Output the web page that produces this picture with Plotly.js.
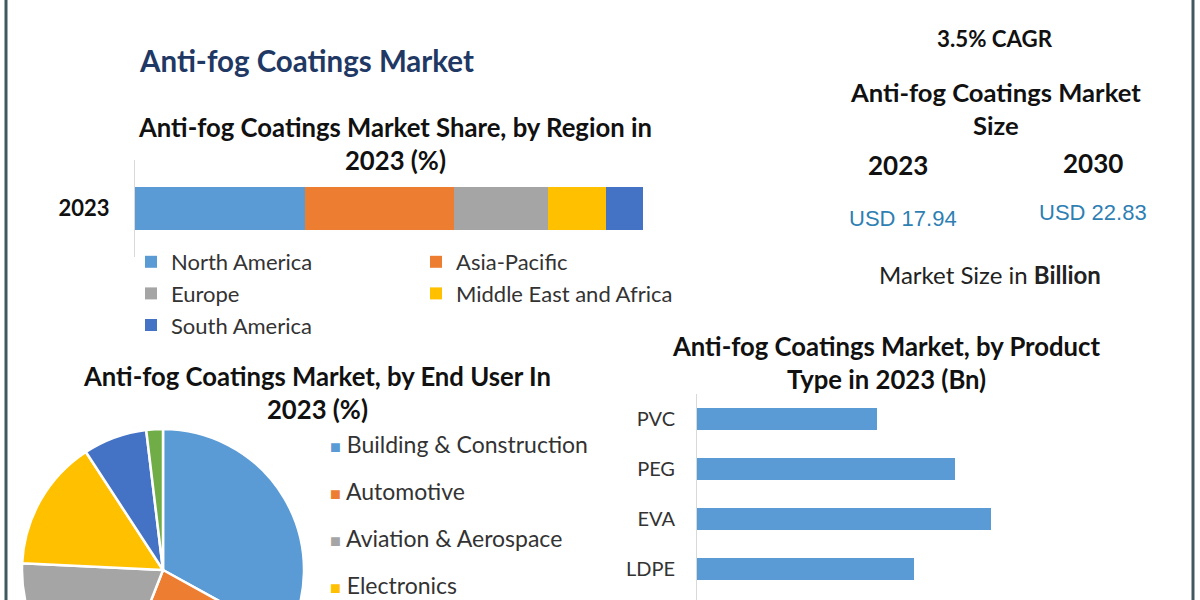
<!DOCTYPE html>
<html><head><meta charset="utf-8">
<script src="https://cdn.plot.ly/plotly-3.0.1.min.js"></script>
<style>
html,body{margin:0;padding:0;background:#fff;overflow:hidden}
#wrap{width:1200px;height:600px;overflow:hidden;position:relative;background:#fff}
#chart{width:1200px;height:760px}
</style></head>
<body><div id="wrap"><div id="chart"></div></div>
<script>
// ---------- data ----------
const mainTitle = 'Anti-fog Coatings Market';
const regionYear = ['2023'];
const regions = ['North America', 'Asia-Pacific', 'Europe', 'Middle East and Africa', 'South America'];
const regionShare = [33.5, 29.3, 18.5, 11.4, 7.3];
const regionColors = ['#5b9bd5', '#ed7d31', '#a5a5a5', '#ffc000', '#4472c4'];

const endUsers = ['Building & Construction', 'Automotive', 'Aviation & Aerospace', 'Electronics', 'Medical', 'Others'];
const endUserShare = [33.0, 22.9, 19.8, 15.0, 7.3, 1.9];
const endUserColors = ['#5b9bd5', '#ed7d31', '#a5a5a5', '#ffc000', '#4472c4', '#70ad47'];

const products = ['PVC', 'PEG', 'EVA', 'LDPE'];
const productValues = [3.2, 4.58, 5.22, 3.86];

const cagr = '3.5% CAGR';
const sizeTitle = 'Anti-fog Coatings Market<br>Size';
const sizeYears = ['2023', '2030'];
const sizeValues = [17.94, 22.83];

// ---------- geometry helpers ----------
const W = 1200, H = 760, VIEW_H = 600;
const px = x => x / W;
const py = y => 1 - y / H;

const traces = [];
regions.forEach((r, i) => {
  traces.push({
    type: 'bar', orientation: 'h', name: r,
    y: regionYear, x: [regionShare[i]],
    marker: {color: regionColors[i]},
    xaxis: 'x', yaxis: 'y',
    legend: (i === 1 || i === 3) ? 'legend2' : 'legend',
    hovertemplate: r + ': %{x}%<extra></extra>'
  });
});
traces.push({
  type: 'pie', labels: endUsers, values: endUserShare, sort: false,
  direction: 'clockwise', rotation: 0, textinfo: 'none',
  marker: {colors: endUserColors, line: {color: '#ffffff', width: 2.5}},
  domain: {x: [px(22), px(304)], y: [py(711), py(429)]},
  showlegend: false
});
traces.push({
  type: 'bar', orientation: 'h', y: products, x: productValues,
  marker: {color: '#5b9bd5'}, xaxis: 'x2', yaxis: 'y2', showlegend: false,
  hovertemplate: '%{y}: %{x}<extra></extra>'
});

const F = 'Lato, "Liberation Sans", Arial, sans-serif';
const ann = [];
function A(text, x, y, size, opts) {
  ann.push(Object.assign({
    text: text, x: px(x), y: py(y), xref: 'paper', yref: 'paper',
    xanchor: 'center', yanchor: 'middle', showarrow: false,
    font: {family: F, size: size, color: '#111'}
  }, opts || {}));
}
const bold = (s, c) => ({family: F, size: s, color: c || '#111', weight: 'bold'});
A(mainTitle, 137, 60, 29.5, {xanchor: 'left', font: bold(29.5, '#1f3864')});
A('Anti-fog Coatings Market Share, by Region in<br>2023 (%)', 395, 143.5, 25.7, {font: bold(25.7)});
A('Anti-fog Coatings Market, by End User In<br>2023 (%)', 317, 392, 25.7, {font: bold(25.7)});
A('Anti-fog Coatings Market, by Product<br>Type in 2023 (Bn)', 886, 362, 25.7, {font: bold(25.7)});
A(cagr, 995, 38, 22.3, {font: bold(22.3)});
A(sizeTitle, 995, 108, 25.6, {font: bold(25.6)});
A(sizeYears[0], 898, 165, 26, {font: bold(26)});
A(sizeYears[1], 1093, 163, 26, {font: bold(26)});
A('USD ' + sizeValues[0].toFixed(2), 903, 218, 22, {font: {family: '"Liberation Sans", Arial, sans-serif', size: 22, color: '#2f7fb3'}});
A('USD ' + sizeValues[1].toFixed(2), 1093, 213, 22, {font: {family: '"Liberation Sans", Arial, sans-serif', size: 22, color: '#2f7fb3'}});
A('Market Size in <b>Billion</b>', 990, 274, 24, {font: {family: F, size: 24, color: '#222'}});
// pie legend: entries that fall inside the visible 600px frame
endUsers.forEach((u, i) => {
  const yc = 444 + 47 * i;
  if (yc > VIEW_H) return;
  A('<span style="color:' + endUserColors[i] + ';font-size:18px">■</span> ' + u, 328, yc, 23,
    {xanchor: 'left', font: {family: F, size: 23, color: '#333'}});
});

const layout = {
  width: W, height: H, margin: {l: 0, r: 0, t: 0, b: 0},
  paper_bgcolor: '#ffffff', plot_bgcolor: 'rgba(0,0,0,0)',
  barmode: 'stack', bargap: 0.55, showlegend: true,
  font: {family: F, color: '#333'},
  xaxis: {domain: [px(135), px(643)], range: [0, 100], showgrid: false, zeroline: false,
          showticklabels: false, showline: false, anchor: 'y'},
  yaxis: {domain: [py(257), py(160)], showline: true, linecolor: '#d9d9d9', linewidth: 1,
          showgrid: false, zeroline: false, ticks: '', ticklabelstandoff: 20, anchor: 'x',
          tickfont: {family: F, size: 22, color: '#111', weight: 'bold'}},
  xaxis2: {domain: [px(697), px(1147)], range: [0, 8], showgrid: false, zeroline: false,
           showticklabels: false, showline: false, anchor: 'y2'},
  yaxis2: {domain: [py(644), py(394)], type: 'category', range: [4.5, -0.5],
           showline: true, linecolor: '#d9d9d9', linewidth: 1, showgrid: false, zeroline: false,
           ticks: '', ticklabelstandoff: 17, anchor: 'x2',
           tickfont: {family: F, size: 20, color: '#333'}},
  legend: {x: px(131), y: py(241), xanchor: 'left', yanchor: 'top', traceorder: 'normal',
           bgcolor: 'rgba(0,0,0,0)', font: {family: F, size: 22, color: '#333'}, tracegroupgap: 0},
  legend2: {x: px(416), y: py(241), xanchor: 'left', yanchor: 'top', traceorder: 'normal',
           bgcolor: 'rgba(0,0,0,0)', font: {family: F, size: 22, color: '#333'}, tracegroupgap: 0},
  annotations: ann,
  shapes: [
    {type: 'line', xref: 'paper', yref: 'paper', x0: px(6), x1: px(6), y0: 0, y1: 1, line: {color: '#3f5a5e', width: 3}},
    {type: 'line', xref: 'paper', yref: 'paper', x0: px(1193), x1: px(1193), y0: 0, y1: 1, line: {color: '#3f5a5e', width: 3}}
  ]
};
Plotly.newPlot('chart', traces, layout, {displayModeBar: false, staticPlot: true});
</script>
</body></html>
